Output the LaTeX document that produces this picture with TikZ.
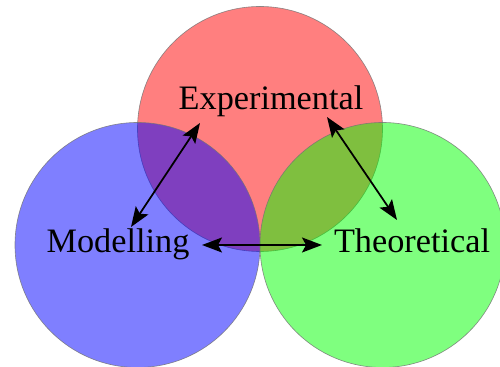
\documentclass[tikz,border=0pt]{standalone}
\usepackage{fontspec}
\setmainfont{Liberation Serif}
\usetikzlibrary{arrows.meta}
\begin{document}
\begin{tikzpicture}[x=0.02cm,y=-0.02cm,
  venn/.style={circle,minimum size=245*0.02cm,inner sep=0pt,draw=black!55,line width=0.35pt,fill opacity=0.5,draw opacity=0.8},
  lbl/.style={anchor=base,font=\fontsize{19.5}{23}\selectfont,inner sep=0pt},
  tip/.style={Stealth[length=0.4cm,width=0.3cm,inset=0.08cm]},
  link/.style={{Stealth[length=0.4cm,width=0.3cm,inset=0.08cm]}-{Stealth[length=0.4cm,width=0.3cm,inset=0.08cm]},line width=1pt,black}]
\useasboundingbox (0,0) rectangle (500,367);
\begin{scope}
\clip (0,0) rectangle (500,367);
\node[venn,fill=red] (cexp) at (260,129) {};
\node[venn,fill=blue] (cmod) at (137.5,245) {};
\node[venn,fill=green] (ctheo) at (382.5,245) {};
\end{scope}
\node[lbl] (exp) at (271,110) {Experimental};
\node[lbl] (mod) at (118,253) {Modelling};
\node[lbl] (theo) at (412,253) {Theoretical};
\coordinate (a1) at (200,123);
\coordinate (a2) at (131,227);
\coordinate (b1) at (327,117);
\coordinate (b2) at (397,220);
\coordinate (c1) at (202,245);
\coordinate (c2) at (322,245);
\draw[link] (a1) -- (a2);
\draw[link] (b1) -- (b2);
\draw[link] (c1) -- (c2);
\end{tikzpicture}
\end{document}
